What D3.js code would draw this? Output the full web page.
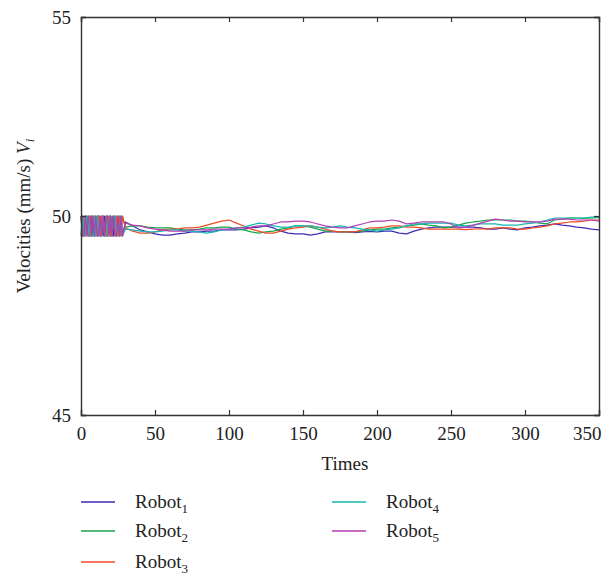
<!DOCTYPE html>
<html><head><meta charset="utf-8">
<script src="https://cdn.jsdelivr.net/npm/d3@7/dist/d3.min.js"></script>
<style>body{margin:0;background:#fff}svg{display:block}</style>
</head><body><svg id="c" width="609" height="575"></svg>
<script>
// ---- data ----
const robotNames = ["Robot", "Robot", "Robot", "Robot", "Robot"];
const robotSubs = ["1", "2", "3", "4", "5"];
const robotColors = ["#3d2db5", "#17a34a", "#f24a26", "#17b8b2", "#b43cb5"];
const xTicks = [0, 50, 100, 150, 200, 250, 300, 350];
const yTicks = [45, 50, 55];
// early oscillation phase (t = 0..28)
const oscTimes = [0,1,2,3,4,5,6,7,8,9,10,11,12,13,14,15,16,17,18,19,20,21,22,23,24,25,26,27,28];
const osc1 = [50,49.5,50,49.5,50,49.5,49.5,50,49.5,50, 49.5,50,50,49.5,50,49.5,50,49.5,49.5,50, 49.5,50,49.5,50,49.5,50,49.5,50,49.5];
const osc2 = [49.5,50,49.5,50,50,49.5,50,49.5,50,49.5, 50,49.5,50,49.5,49.5,50,49.5,50,49.5,50, 50,49.5,50,49.5,50,49.5,50,49.5,50];
const osc3 = [50,50,49.5,50,49.5,50,49.5,50,50,49.5, 50,49.5,50,49.5,50,50,49.5,50,49.5,50, 49.5,49.5,50,49.5,50,49.5,50,49.5,50];
const osc4 = [49.5,49.5,50,49.5,50,49.5,50,49.5,49.5,50, 49.5,50,49.5,50,49.5,50,49.5,49.5,50,49.5, 50,49.5,50,50,49.5,50,49.5,50,49.5];
const osc5 = [50,49.5,49.5,50,49.5,50,50,49.5,50,49.5, 50,49.5,49.5,50,49.5,50,49.5,50,50,49.5, 50,49.5,50,49.5,49.5,50,49.5,50,49.5];
// converged phase (t = 30..350)
const times = [30,35,40,45,50, 55,60,65,70,75, 80,85,90,95,100, 105,110,115,120,125, 130,135,140,145,150,
  155,160,165,170,175, 180,185,190,195,200, 205,210,215,220,225, 230,235,240,245,250,
  255,260,265,270,275, 280,285,290,295,300, 305,310,315,320,325, 330,335,340,345,350];
const robot1 = [49.85,49.75,49.65,49.60,49.55, 49.52,49.52,49.55,49.57,49.60, 49.60,49.62,49.62,49.65,49.65,
  49.65,49.67,49.70,49.72,49.75, 49.70,49.62,49.57,49.55,49.55, 49.52,49.55,49.60,49.60,49.60,
  49.60,49.58,49.60,49.61,49.60, 49.62,49.62,49.57,49.55,49.62, 49.67,49.70,49.72,49.72,49.72,
  49.72,49.72,49.72,49.70,49.67, 49.67,49.70,49.67,49.65,49.70, 49.72,49.75,49.77,49.80,49.77,
  49.75,49.72,49.70,49.67,49.65];
const robot2 = [49.72,49.75,49.75,49.72,49.70, 49.70,49.70,49.67,49.65,49.65, 49.67,49.70,49.70,49.72,49.72,
  49.67,49.65,49.60,49.57,49.60, 49.62,49.67,49.70,49.75,49.75, 49.72,49.67,49.62,49.62,49.60,
  49.60,49.60,49.62,49.65,49.67, 49.67,49.70,49.72,49.75,49.77, 49.80,49.77,49.75,49.70,49.72,
  49.77,49.82,49.85,49.87,49.90, 49.90,49.90,49.90,49.87,49.87, 49.85,49.82,49.80,49.90,49.92,
  49.95,49.95,49.94,49.95,49.96];
const robot3 = [49.70,49.62,49.57,49.57,49.60, 49.65,49.67,49.67,49.70,49.70, 49.72,49.77,49.82,49.87,49.90,
  49.82,49.75,49.67,49.62,49.57, 49.57,49.62,49.67,49.70,49.72, 49.75,49.72,49.67,49.62,49.60,
  49.60,49.60,49.65,49.70,49.70, 49.72,49.75,49.75,49.72,49.72, 49.70,49.67,49.67,49.67,49.67,
  49.67,49.66,49.67,49.68,49.67, 49.70,49.70,49.70,49.67,49.67, 49.70,49.72,49.75,49.80,49.82,
  49.85,49.85,49.87,49.90,49.90];
const robot4 = [49.67,49.65,49.62,49.60,49.60, 49.62,49.65,49.65,49.62,49.62, 49.60,49.57,49.60,49.65,49.67,
  49.70,49.72,49.77,49.82,49.80, 49.75,49.72,49.72,49.75,49.75, 49.75,49.72,49.70,49.72,49.75,
  49.72,49.70,49.67,49.65,49.62, 49.65,49.67,49.70,49.75,49.80, 49.80,49.82,49.82,49.82,49.82,
  49.77,49.75,49.77,49.80,49.80, 49.80,49.77,49.77,49.77,49.80, 49.82,49.85,49.90,49.95,49.95,
  49.95,49.95,49.95,49.97,49.97];
const robot5 = [49.82,49.77,49.75,49.70,49.67, 49.65,49.62,49.62,49.62,49.65, 49.65,49.65,49.67,49.67,49.67,
  49.70,49.70,49.72,49.75,49.75, 49.80,49.85,49.85,49.87,49.87, 49.85,49.80,49.75,49.72,49.70,
  49.70,49.75,49.80,49.85,49.87, 49.87,49.90,49.87,49.80,49.82, 49.85,49.85,49.85,49.85,49.80,
  49.70,49.72,49.77,49.82,49.87, 49.92,49.90,49.87,49.87,49.85, 49.85,49.85,49.87,49.92,49.92,
  49.92,49.90,49.90,49.90,49.87];

// ---- chart ----
const FONT = '"Liberation Serif", "Times New Roman", "DejaVu Serif", serif';
const FS = 19;
const svg = d3.select("#c").attr("font-family", FONT);
const L = 81, R = 599, T = 17, B = 415;
const x = d3.scaleLinear().domain([0, 350]).range([L, R]);
const y = d3.scaleLinear().domain([45, 55]).range([B, T]);
const axisColor = "#333";
const txtColor = "#222";

const oscs = [osc1, osc2, osc3, osc4, osc5];
const robots = [robot1, robot2, robot3, robot4, robot5];
const series = robots.map((r, i) => {
  const pts = oscTimes.map((t, j) => [t, oscs[i][j]]);
  return pts.concat(times.map((t, j) => [t, r[j]]));
});

const line = d3.line().x(d => x(d[0])).y(d => y(d[1]));
const g = svg.append("g");
series.forEach((s, i) => {
  g.append("path").datum(s).attr("d", line)
    .attr("fill", "none").attr("stroke", robotColors[i]).attr("stroke-width", 1.2)
    .attr("stroke-linejoin", "round");
});

// axes (box with inward ticks)
const tl = 5;
const xb = svg.append("g").attr("transform", `translate(0,${B})`)
  .call(d3.axisBottom(x).tickValues(xTicks).tickSize(-tl).tickPadding(10).tickFormat(d3.format("d")));
const xt = svg.append("g").attr("transform", `translate(0,${T})`)
  .call(d3.axisTop(x).tickValues(xTicks).tickSize(-tl).tickFormat(""));
const yl = svg.append("g").attr("transform", `translate(${L},0)`)
  .call(d3.axisLeft(y).tickValues(yTicks).tickSize(-tl).tickPadding(10).tickFormat(d3.format("d")));
const yr = svg.append("g").attr("transform", `translate(${R},0)`)
  .call(d3.axisRight(y).tickValues(yTicks).tickSize(-tl).tickFormat(""));
[xb, xt, yl, yr].forEach(a => {
  a.attr("font-family", FONT).attr("font-size", FS);
  a.select(".domain").attr("stroke", axisColor).attr("stroke-width", 1.4);
  a.selectAll(".tick line").attr("stroke", axisColor).attr("stroke-width", 1.2);
  a.selectAll(".tick text").attr("fill", txtColor);
});
xb.selectAll(".tick text").attr("dy", "0.8em");
xb.selectAll(".tick text").filter(d => d === 350).attr("text-anchor", "end").attr("dx", "0.1em");

svg.append("text").attr("x", (L + R) / 2 + 5).attr("y", 470).attr("text-anchor", "middle")
  .attr("font-size", FS).attr("fill", txtColor).text("Times");

const yt = svg.append("text").attr("transform", `translate(30,${(T + B) / 2}) rotate(-90)`)
  .attr("text-anchor", "middle").attr("font-size", FS).attr("fill", txtColor);
yt.append("tspan").text("Velocities (mm/s) ");
yt.append("tspan").attr("font-style", "italic").text("V");
yt.append("tspan").attr("font-style", "italic").attr("font-size", 13).attr("dy", 4).text("i");

// legend
const legPos = [[81, 502], [81, 531], [81, 562], [332, 502], [332, 531]];
robotNames.forEach((n, i) => {
  const [lx, ly] = legPos[i];
  svg.append("line").attr("x1", lx).attr("x2", lx + 34).attr("y1", ly).attr("y2", ly)
    .attr("stroke", robotColors[i]).attr("stroke-width", 1.4);
  const t = svg.append("text").attr("x", lx + 54).attr("y", ly + 6).attr("font-size", FS).attr("fill", txtColor);
  t.append("tspan").text(n);
  t.append("tspan").attr("font-size", 13).attr("dy", 5).text(robotSubs[i]);
});
</script></body></html>
